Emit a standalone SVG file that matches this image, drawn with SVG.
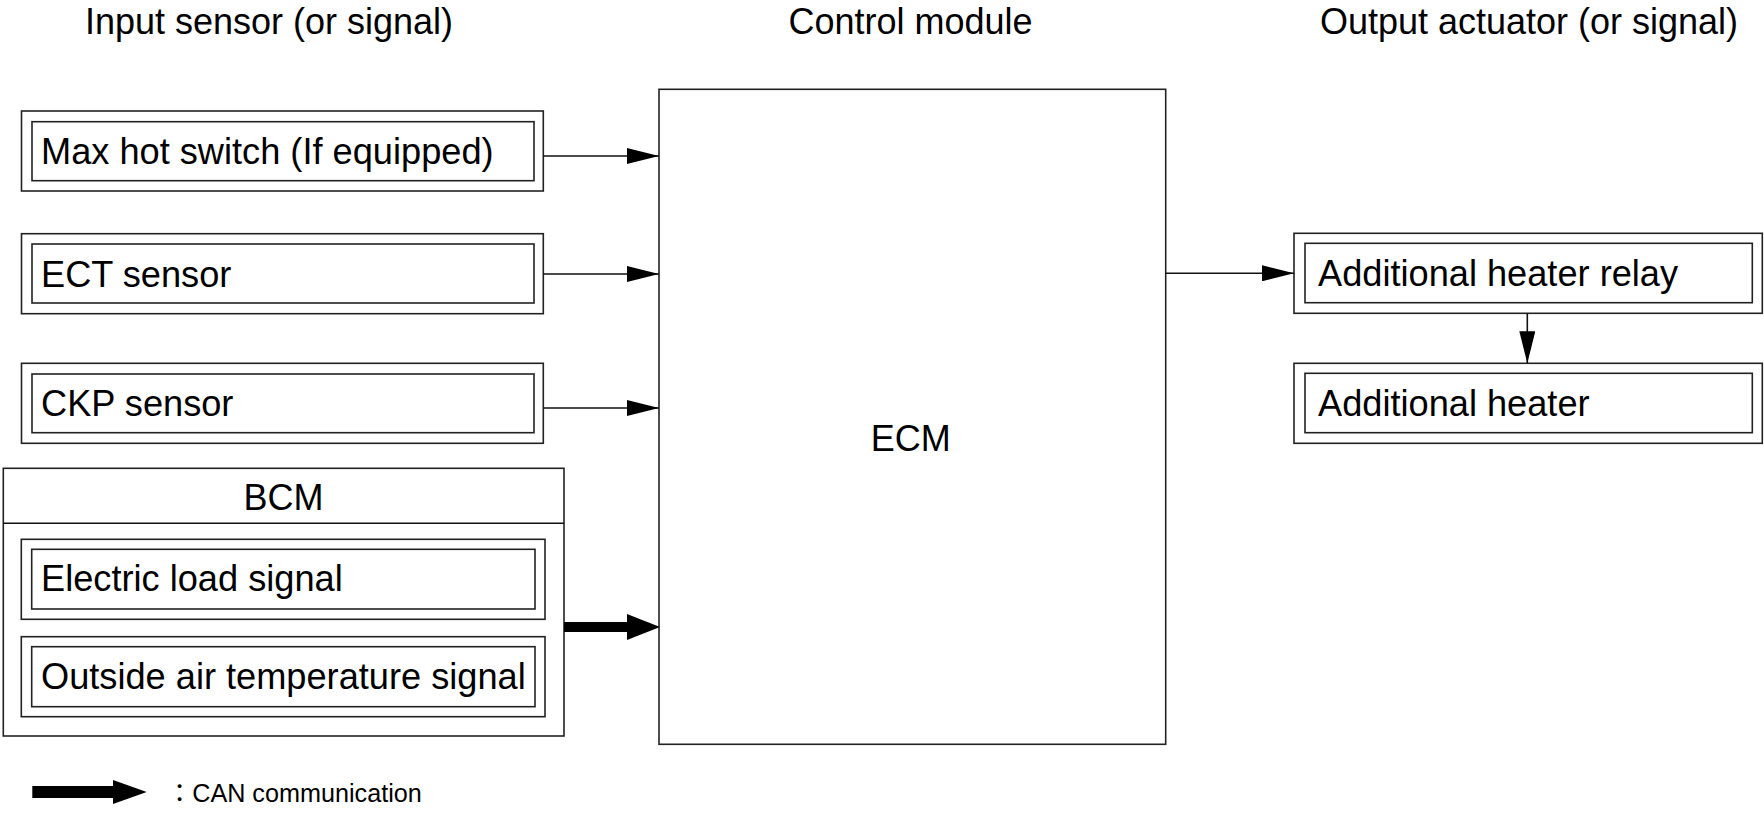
<svg xmlns="http://www.w3.org/2000/svg" width="1764" height="814" viewBox="0 0 1764 814">
<style>
  .box { fill: #ffffff; stroke: #222222; stroke-width: 1.6; }
  .lbl { font-family: "Liberation Sans", Arial, sans-serif; font-size: 36.2px; fill: #000000; }
  .ttl { font-family: "Liberation Sans", Arial, sans-serif; font-size: 36px; fill: #000000; text-anchor: middle; }
  .wire { fill: none; stroke: #111111; stroke-width: 1.6; }
  .can { fill: #000000; stroke: none; }
</style>
<defs>
  <marker id="ah" markerUnits="userSpaceOnUse" markerWidth="32" markerHeight="16" refX="32" refY="8" orient="auto">
    <path d="M0,0 L32,8 L0,16 Z" fill="#000000"/>
  </marker>
</defs>
<rect x="0" y="0" width="1764" height="814" fill="#ffffff"/>

<g id="titles">
  <text class="ttl" x="269" y="33.5">Input sensor (or signal)</text>
  <text class="ttl" x="910.5" y="33.5">Control module</text>
  <text class="ttl" x="1529" y="33.5">Output actuator (or signal)</text>
</g>

<g id="max-hot-switch">
  <rect class="box" x="21.5" y="111" width="521.8" height="80"/>
  <rect class="box" x="32" y="121.7" width="502" height="59"/>
  <text class="lbl" x="41" y="164">Max hot switch (If equipped)</text>
</g>

<g id="ect-sensor">
  <rect class="box" x="21.5" y="233.7" width="521.8" height="80"/>
  <rect class="box" x="32" y="244" width="502" height="59"/>
  <text class="lbl" x="41" y="286.5">ECT sensor</text>
</g>

<g id="ckp-sensor">
  <rect class="box" x="21.5" y="363.3" width="521.8" height="80"/>
  <rect class="box" x="32" y="374" width="502" height="58.7"/>
  <text class="lbl" x="41" y="416">CKP sensor</text>
</g>

<g id="bcm">
  <rect class="box" x="3.3" y="468.3" width="560.7" height="267.7"/>
  <line class="wire" x1="3.3" y1="523.3" x2="564" y2="523.3"/>
  <text class="ttl" x="283.5" y="509.5">BCM</text>
  <g id="electric-load-signal">
    <rect class="box" x="21.3" y="539.3" width="523.7" height="80"/>
    <rect class="box" x="31.7" y="549.3" width="503.3" height="59.7"/>
    <text class="lbl" x="41" y="591">Electric load signal</text>
  </g>
  <g id="outside-air-temperature-signal">
    <rect class="box" x="21.3" y="636.7" width="523.7" height="80"/>
    <rect class="box" x="31.7" y="646.7" width="503.3" height="60"/>
    <text class="lbl" x="41" y="689">Outside air temperature signal</text>
  </g>
</g>

<g id="ecm">
  <rect class="box" x="659" y="89.3" width="506.7" height="655"/>
  <text class="ttl" x="910.8" y="450.5">ECM</text>
</g>

<g id="additional-heater-relay">
  <rect class="box" x="1294" y="233.3" width="468.3" height="80"/>
  <rect class="box" x="1305" y="243.3" width="447.3" height="59.4"/>
  <text class="lbl" x="1318" y="286">Additional heater relay</text>
</g>

<g id="additional-heater">
  <rect class="box" x="1294" y="363.3" width="468.3" height="80"/>
  <rect class="box" x="1305" y="373.3" width="447.3" height="59.4"/>
  <text class="lbl" x="1318" y="416">Additional heater</text>
</g>

<g id="connectors">
  <line class="wire" x1="543.3" y1="156" x2="659" y2="156" marker-end="url(#ah)"/>
  <line class="wire" x1="543.3" y1="274" x2="659" y2="274" marker-end="url(#ah)"/>
  <line class="wire" x1="543.3" y1="408" x2="659" y2="408" marker-end="url(#ah)"/>
  <path class="can" d="M564,622 L627,622 L627,614 L660,627 L627,640 L627,632 L564,632 Z"/>
  <line class="wire" x1="1165.7" y1="273.3" x2="1294" y2="273.3" marker-end="url(#ah)"/>
  <line class="wire" x1="1527.3" y1="313.3" x2="1527.3" y2="363.3" marker-end="url(#ah)"/>
</g>

<g id="legend">
  <path class="can" d="M32.3,786 L113,786 L113,780 L146.7,792 L113,804 L113,798 L32.3,798 Z"/>
  <text x="167" y="801.7" font-family="'Liberation Sans', 'Noto Sans CJK JP', sans-serif" font-size="25.2" fill="#000000">：CAN communication</text>
</g>
</svg>
